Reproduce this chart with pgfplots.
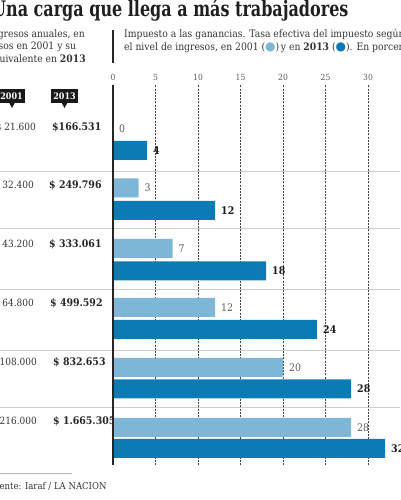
\documentclass[border=0pt]{standalone}
\usepackage{pgfplots}
\pgfplotsset{compat=1.18}
\usepackage{fontspec}
\setmainfont{DejaVu Serif Condensed}
\newfontfamily\slab{DejaVu Serif Condensed}
\newfontfamily\dejavu{DejaVu Sans}
\definecolor{lightb}{HTML}{7DB6D6}
\definecolor{darkb}{HTML}{0C7BB5}
\definecolor{txt}{HTML}{333333}
\begin{document}
\begin{tikzpicture}[x=1bp,y=1bp]
\useasboundingbox (0,0) rectangle (400,500);
\clip (0,0) rectangle (400,500);
% title
\node[anchor=base west, inner sep=0, font=\slab\bfseries\fontsize{21.5}{22}\selectfont, text=black!88] at (-8,483) {\scalebox{0.83}[1]{Una carga que llega a más trabajadores}};
% subtitles
\begin{scope}[every node/.style={anchor=base west, inner sep=0, text=txt, font=\fontsize{10.3}{12}\selectfont}]
\node at (-12,462) {Ingresos anuales, en};
\node at (-13,450) {pesos en 2001 y su};
\node at (-12,437) {equivalente en \textbf{2013}};
\node at (124,462) {Impuesto a las ganancias. Tasa efectiva del impuesto según};
\node at (124,449) {el nivel de ingresos, en 2001 ({\dejavu\fontsize{12}{12}\selectfont\textcolor{lightb}{●}})\,y en \textbf{2013} ({\dejavu\fontsize{12}{12}\selectfont\textcolor{darkb}{●}}). En porcentaje};
\end{scope}
\draw[line width=1.8bp, black!85] (113,470) -- (113,437);
% badges
\node[fill=black!90, text=white, font=\bfseries\fontsize{9}{9}\selectfont, inner xsep=2bp, inner ysep=0pt, minimum height=14bp] at (11.5,404) {2001};
\fill[black!90] (9,397.5) -- (15,397.5) -- (12,392) -- cycle;
\node[fill=black!90, text=white, font=\bfseries\fontsize{9}{9}\selectfont, inner xsep=2bp, inner ysep=0pt, minimum height=14bp] at (64.5,404) {2013};
\fill[black!90] (61.5,397.5) -- (67.5,397.5) -- (64.5,392) -- cycle;
% separators
\foreach \yy in {329,272,211,150,93} {\draw[gray!40, line width=0.9bp] (0,\yy) -- (400,\yy);}
% row labels
\begin{scope}[every node/.style={inner sep=0, text=txt, font=\fontsize{10}{12}\selectfont}]
\node[anchor=mid east] at (36,372) {\$ 21.600};
\node[anchor=mid east] at (34,314) {\$ 32.400};
\node[anchor=mid east] at (34,255) {\$ 43.200};
\node[anchor=mid east] at (34,196) {\$ 64.800};
\node[anchor=mid east] at (37,137) {\$ 108.000};
\node[anchor=mid east] at (37,78) {\$ 216.000};
\end{scope}
\begin{scope}[every node/.style={inner sep=0, text=black!85, font=\bfseries\fontsize{10.5}{12}\selectfont}]
\node[anchor=mid west] at (52,372) {\$166.531};
\node[anchor=mid west] at (49,314) {\$ 249.796};
\node[anchor=mid west] at (49,255) {\$ 333.061};
\node[anchor=mid west] at (50,196) {\$ 499.592};
\node[anchor=mid west] at (53,137) {\$ 832.653};
\node[anchor=mid west] at (53,78) {\$ 1.665.305};
\end{scope}
% bottom
\draw[gray!60, line width=0.8bp] (0,27) -- (72,27);
\node[anchor=base west, inner sep=0, text=txt, font=\fontsize{9.5}{10}\selectfont] at (-12,10) {Fuente: Iaraf / LA NACION};
\begin{axis}[
  at={(113bp,35bp)}, anchor=south west,
  x=8.5bp, y=1bp,
  xmin=0, xmax=34, ymin=35, ymax=415,
  xbar, bar width=19bp,
  axis line style={draw=none},
  xtick={0,5,...,30}, xticklabels={},
  major tick length=0pt,
  ytick=\empty,
  xmajorgrids,
  major grid style={black!75, line width=0.7bp, dash pattern=on 2bp off 1.2bp},
  clip=false,
  /pgf/number format/assume math mode=true,
]
\addplot+[bar shift=0pt, fill=lightb, draw=none, point meta=x,
  nodes near coords,
  every node near coord/.append style={anchor=west, inner sep=0pt, xshift=6bp, text=black!65, font=\fontsize{10.5}{11}\selectfont}]
  coordinates {(0,371.5) (3,312) (7,251.5) (12,192.5) (20,132.5) (28,72.5)};
\addplot+[bar shift=0pt, fill=darkb, draw=none, point meta=x,
  nodes near coords,
  every node near coord/.append style={anchor=west, inner sep=0pt, xshift=6bp, text=black!90, font=\bfseries\fontsize{10.5}{11}\selectfont}]
  coordinates {(4,349.5) (12,289.5) (18,229) (24,170.5) (28,111) (32,51.5)};
\draw[line width=1.8bp, black!85] (axis cs:0,35) -- (axis cs:0,415);
\pgfplotsinvokeforeach{0,5,10,15,20,25,30}{
  \node[text=black!65, font=\fontsize{8.5}{10}\selectfont] at (axis cs:#1,423) {#1};
}
\end{axis}
\end{tikzpicture}
\end{document}
